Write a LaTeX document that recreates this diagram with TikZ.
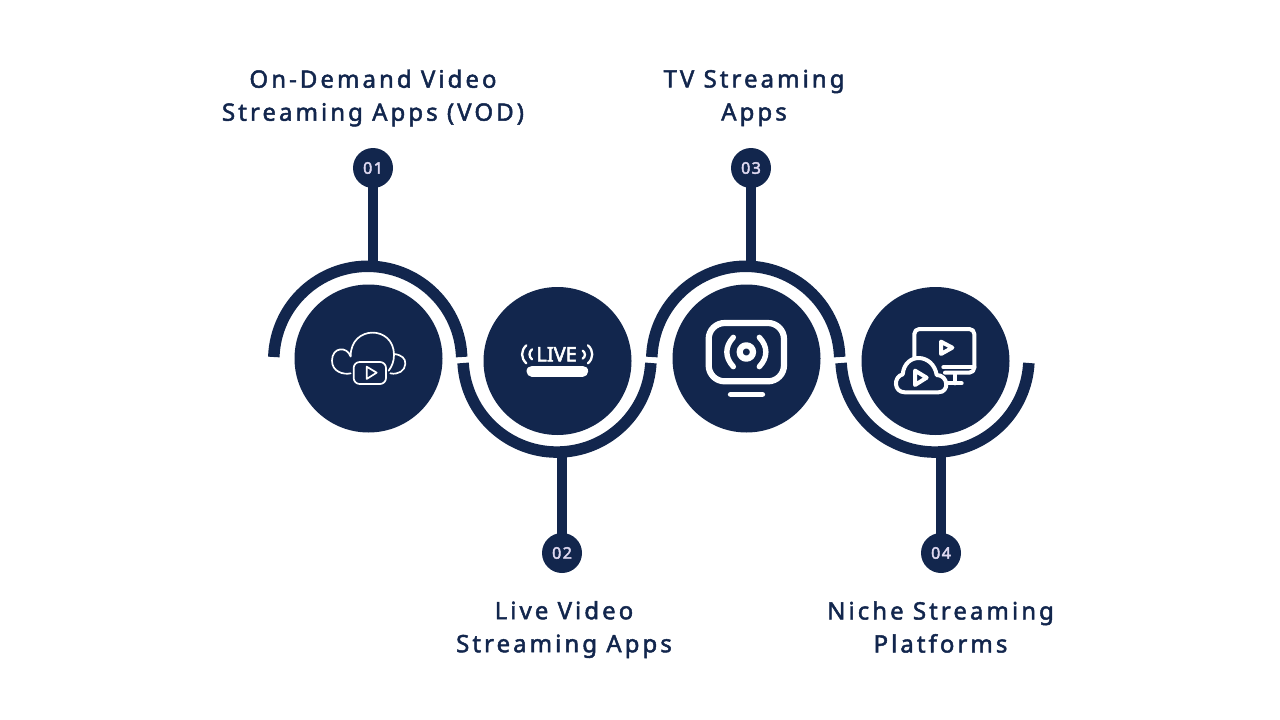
\documentclass[tikz,border=0pt]{standalone}
\usepackage{fontspec}
\setmainfont{Noto Sans}
\newfontfamily\labelfont[LetterSpace=12.7,FakeBold=2]{Noto Sans}
\newfontfamily\numfont[LetterSpace=9,FakeBold=2.8]{Noto Sans}
\newfontfamily\livefont[FakeBold=2.6]{Noto Sans}
\definecolor{navy}{RGB}{18,38,77}
\definecolor{numtext}{RGB}{222,216,240}
\tikzstyle{bigdisc}=[circle, fill=navy, minimum size=148pt, inner sep=0pt]
\tikzstyle{numdisc}=[circle, fill=navy, minimum size=40pt, inner sep=0pt, text=numtext, font=\numfont\fontsize{16}{18}\selectfont]
\tikzstyle{label}=[text=navy, align=center, font=\labelfont\fontsize{24}{33}\selectfont]
\tikzset{band/.style={navy, line width=11.5pt}}
\tikzset{stem/.style={navy, line width=10.5pt, shorten <=-1.5pt}}
\tikzset{icon/.style={white, line cap=round, line join=round}}

\begin{document}
\begin{tikzpicture}[x=1pt,y=-1pt]
  \useasboundingbox (0,0) rectangle (1280,720);

  %% Numbers and stems
  \draw (373,168) node[numdisc] (N1) {01};
  \draw (562,553) node[numdisc] (N2) {02};
  \draw (751,168) node[numdisc] (N3) {03};
  \draw (941,553) node[numdisc] (N4) {04};
  \coordinate (T1) at (373,266);
  \coordinate (T2) at (562,454);
  \coordinate (T3) at (751,266);
  \coordinate (T4) at (941,454);
  \draw[stem] (N1) -- (T1);
  \draw[stem] (N2) -- (T2);
  \draw[stem] (N3) -- (T3);
  \draw[stem] (N4) -- (T4);

  %% Bands
  \draw[band] (273.8,357) arc (182:358:94);
  \draw[band] (463.1,363) arc (177:3:94);
  \draw[band] (651.8,357) arc (182:358:94);
  \draw[band] (841.1,363) arc (177:3:94);

  %% Discs
  \draw (368.5,358.5) node[bigdisc] (D1) {};
  \draw (557.5,361) node[bigdisc] (D2) {};
  \draw (746.5,358.5) node[bigdisc] (D3) {};
  \draw (935.5,361) node[bigdisc] (D4) {};

  %% Cloud with player
  \begin{scope}[shift={(260,250)},x=1/3*1pt,y=-1/3*1pt]
    \draw[icon,line width=1.7pt] (272,318) .. controls (272,225) and (402,225) .. (402,315) .. controls (402,335) and (395,350) .. (386,362);
    \draw[icon,line width=1.7pt] (272,320) .. controls (262,288) and (216,290) .. (216,332) .. controls (216,365) and (250,375) .. (272,370);
    \draw[icon,line width=1.7pt] (403,312) .. controls (425,315) and (437,325) .. (436,342) .. controls (435,362) and (415,375) .. (391,370);
    \draw[icon,line width=1.7pt,rounded corners=6pt] (281,336) rectangle (378,402);
    \draw[icon,line width=1.7pt] (320,350) -- (350,368) -- (320,387) -- cycle;
  \end{scope}

  %% Live bar
  \begin{scope}[shift={(450,280)},x=1/3*1pt,y=-1/3*1pt]
    \node[text=white, font=\livefont\fontsize{20}{20}\selectfont] (LV) at (320,223) {LIVE};
    \draw[icon,line width=11pt] (246,273) -- (398,273);
    \draw[icon,line width=2.3pt] (229,196) .. controls (212,212) and (212,234) .. (229,250);
    \draw[icon,line width=2.3pt] (246,208) .. controls (236,216) and (236,230) .. (246,238);
    \draw[icon,line width=2.3pt] (414,196) .. controls (431,212) and (431,234) .. (414,250);
    \draw[icon,line width=2.3pt] (398,212) .. controls (407,218) and (407,230) .. (398,236);
  \end{scope}

  %% Broadcast screen
  \begin{scope}[shift={(640,250)},x=1/3*1pt,y=-1/3*1pt]
    \draw[icon,line width=6.2pt,rounded corners=16pt] (206,219) rectangle (432,394);
    \draw[icon,line width=5.6pt] (272,433) -- (367,433);
    \draw[icon,line width=6.2pt] (319,306) circle [radius=20];
    \draw[icon,line width=5.4pt] (280,262) .. controls (254,290) and (254,322) .. (280,350);
    \draw[icon,line width=5.4pt] (358,262) .. controls (384,290) and (384,322) .. (358,350);
  \end{scope}

  %% Monitor and cloud
  \begin{scope}[shift={(830,280)},x=1/3*1pt,y=-1/3*1pt]
    \draw[icon,line width=4pt,rounded corners=5pt] (253,240) -- (253,147) -- (433,147) -- (433,278) -- (345,278);
    \draw[icon,line width=4pt] (340,262) -- (433,262);
    \draw[icon,line width=4pt] (375,280) -- (375,310);
    \draw[icon,line width=4pt] (350,310) -- (395,310);
    \draw[icon,line width=4pt] (333,185) -- (367,203) -- (333,222) -- cycle;
    \draw[icon,line width=4pt,fill=navy] (225,337) .. controls (190,337) and (190,290) .. (218,283) .. controls (225,215) and (310,220) .. (320,285) .. controls (355,285) and (360,337) .. (325,337) -- cycle;
    \draw[icon,line width=4pt] (255,272) -- (290,293) -- (255,315) -- cycle;
  \end{scope}

  %% Labels
  \draw (373,98) node[label] (L1) {On-Demand Video\\Streaming Apps (VOD)};
  \draw (564,629.5) node[label] (L2) {Live Video\\Streaming Apps};
  \draw (754,98) node[label] (L3) {TV Streaming\\Apps};
  \draw (940.5,627) node[label] (L4) {Niche Streaming\\Platforms};
\end{tikzpicture}
\end{document}
